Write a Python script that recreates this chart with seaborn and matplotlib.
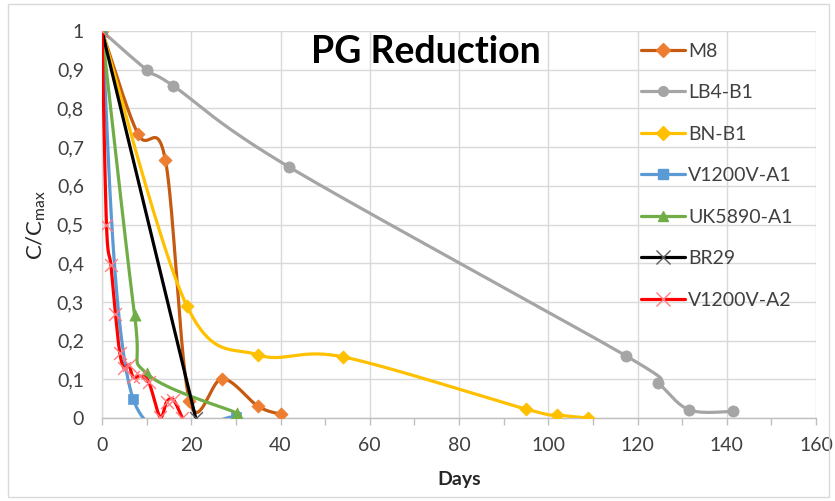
import numpy as np
import pandas as pd
import matplotlib
matplotlib.use("Agg")
import matplotlib.pyplot as plt
import seaborn as sns
from matplotlib.lines import Line2D
from matplotlib.patches import Rectangle
from matplotlib.ticker import FuncFormatter, MultipleLocator

# ---------------- data ----------------
series_names = ["M8", "LB4-B1", "BN-B1", "V1200V-A1", "UK5890-A1", "BR29", "V1200V-A2"]

m8_days = [0, 8, 14.2, 19.6, 27, 35, 40]
m8_vals = [1.0, 0.735, 0.667, 0.045, 0.102, 0.030, 0.010]

lb4_days = [0, 10, 16, 42, 117.5, 124.6, 131.6, 141.5]
lb4_vals = [1.0, 0.900, 0.858, 0.648, 0.160, 0.091, 0.021, 0.017]

bn_days = [0, 19, 35, 54, 95, 102, 109]
bn_vals = [1.0, 0.290, 0.163, 0.158, 0.023, 0.008, 0.0]

v1a1_days = [0, 7, 30]
v1a1_vals = [1.0, 0.049, 0.003]

uk_days = [0, 7.3, 10, 30.2]
uk_vals = [1.0, 0.266, 0.115, 0.013]

br_days = [0, 21]
br_vals = [1.0, 0.0]

v1a2_days = [0, 1, 2, 3, 4, 5, 6, 7, 8.5, 10.5, 13, 14.5, 16, 18]
v1a2_vals = [1.0, 0.50, 0.395, 0.27, 0.167, 0.128, 0.137, 0.105, 0.108, 0.092, 0.003, 0.042, 0.047, 0.0]

x_ticks = [0, 20, 40, 60, 80, 100, 120, 140, 160]
y_ticks = [0, 0.1, 0.2, 0.3, 0.4, 0.5, 0.6, 0.7, 0.8, 0.9, 1.0]

# ---------------- styles ----------------
styles = {
    "M8":        dict(line="#C55A11", mc="#ED7D31", marker="D", s=45, smooth=True),
    "LB4-B1":    dict(line="#A5A5A5", mc="#A5A5A5", marker="o", s=65, smooth=True),
    "BN-B1":     dict(line="#FFC000", mc="#FFC000", marker="D", s=45, smooth=True),
    "V1200V-A1": dict(line="#5B9BD5", mc="#5B9BD5", marker="s", s=50, smooth=True),
    "UK5890-A1": dict(line="#70AD47", mc="#70AD47", marker="^", s=65, smooth=True),
    "BR29":      dict(line="#000000", mc="#595959", marker="x", s=85, smooth=False),
    "V1200V-A2": dict(line="#FF0000", mc="#FF7C80", marker="x", s=85, smooth=True),
}
data = {
    "M8": (m8_days, m8_vals), "LB4-B1": (lb4_days, lb4_vals), "BN-B1": (bn_days, bn_vals),
    "V1200V-A1": (v1a1_days, v1a1_vals), "UK5890-A1": (uk_days, uk_vals),
    "BR29": (br_days, br_vals), "V1200V-A2": (v1a2_days, v1a2_vals),
}


def smooth_curve(x, y, n=40):
    """Excel-like smoothed line (Catmull-Rom Bezier) through the given points."""
    x = np.asarray(x, float)
    y = np.asarray(y, float)
    if len(x) < 3:
        return x, y
    px = np.concatenate([[x[0]], x, [x[-1]]])
    py = np.concatenate([[y[0]], y, [y[-1]]])
    t = np.linspace(0, 1, n)
    xs, ys = [], []
    for i in range(len(x) - 1):
        p0 = np.array([px[i], py[i]])
        p1 = np.array([px[i + 1], py[i + 1]])
        p2 = np.array([px[i + 2], py[i + 2]])
        p3 = np.array([px[i + 3], py[i + 3]])
        c1 = p1 + (p2 - p0) / 6.0
        c2 = p2 - (p3 - p1) / 6.0
        b = ((1 - t) ** 3)[:, None] * p1 + (3 * (1 - t) ** 2 * t)[:, None] * c1 \
            + (3 * (1 - t) * t ** 2)[:, None] * c2 + (t ** 3)[:, None] * p2
        if i > 0:
            b = b[1:]
        xs.append(b[:, 0])
        ys.append(b[:, 1])
    return np.concatenate(xs), np.concatenate(ys)


# ---------------- figure ----------------
sns.set_style("white")
plt.rcParams["font.family"] = ["Lato", "DejaVu Sans"]

W, H = 835, 501
fig = plt.figure(figsize=(W / 100, H / 100), dpi=100)
ax = fig.add_axes([102 / W, 1 - 418 / H, (816 - 102) / W, (418 - 31) / H])

for i, name in enumerate(series_names):
    st = styles[name]
    d, v = data[name]
    if st["smooth"]:
        cx, cy = smooth_curve(d, v)
    else:
        cx, cy = np.asarray(d, float), np.asarray(v, float)
    sns.lineplot(x=cx, y=cy, sort=False, estimator=None, color=st["line"], lw=2.3,
                 ax=ax, zorder=3 + 2 * i, legend=False)
    if st["marker"] == "x":
        sns.scatterplot(x=d, y=v, marker="x", s=st["s"], color=st["mc"], linewidth=1.0,
                        ax=ax, zorder=4 + 2 * i, legend=False)
    else:
        sns.scatterplot(x=d, y=v, marker=st["marker"], s=st["s"], color=st["mc"],
                        edgecolor=st["mc"], linewidth=0.5, ax=ax, zorder=4 + 2 * i, legend=False)

ax.set_xlim(0, 160)
ax.set_ylim(0, 1)
ax.set_xticks(x_ticks)
ax.xaxis.set_minor_locator(MultipleLocator(10))
ax.set_yticks(y_ticks)
ax.yaxis.set_major_formatter(FuncFormatter(lambda v, _: ("%g" % round(v, 1)).replace(".", ",")))

ax.grid(True, which="major", color="#D9D9D9", lw=1.0)
ax.set_axisbelow(True)
for sp in ["top", "right"]:
    ax.spines[sp].set_visible(False)
ax.spines["left"].set_color("#D9D9D9")
ax.spines["bottom"].set_color("#BFBFBF")
ax.spines["left"].set_linewidth(1.0)
ax.spines["bottom"].set_linewidth(1.0)

ax.tick_params(axis="x", which="both", direction="out", length=5, width=1, color="#BFBFBF",
               labelsize=14, labelcolor="#404040", pad=9, bottom=True)
ax.tick_params(axis="y", which="both", length=0, labelsize=14, labelcolor="#404040", pad=13, left=True)

ax.set_xlabel("Days", fontsize=14, fontweight="bold", color="#262626", labelpad=12)
ax.set_ylabel(r"C/C$_{\mathregular{max}}$", fontsize=16, color="#262626", labelpad=6)

fig.text(426 / W, 1 - 52 / H, "PG Reduction", ha="center", va="center",
         fontsize=27, fontweight="bold", color="#000000")

handles = []
for name in series_names:
    st = styles[name]
    handles.append(Line2D([], [], color=st["line"], lw=2.3, marker=st["marker"],
                          markerfacecolor=st["mc"], markeredgecolor=st["mc"],
                          markersize=7 if st["marker"] != "x" else 10, markeredgewidth=1.0))
leg = fig.legend(handles, series_names, loc="upper left", bbox_to_anchor=(627 / W, 1 - 29 / H),
                 frameon=False, fontsize=14, handlelength=2.3, labelspacing=1.26,
                 handletextpad=0.15, borderpad=0.2)
for t in leg.get_texts():
    t.set_color("#404040")

fig.patches.append(Rectangle((8 / W, 4 / H), (829 - 8) / W, (497 - 4) / H,
                             transform=fig.transFigure, fill=False, edgecolor="#D9D9D9", lw=1))

fig.savefig("out.png", dpi=100)
